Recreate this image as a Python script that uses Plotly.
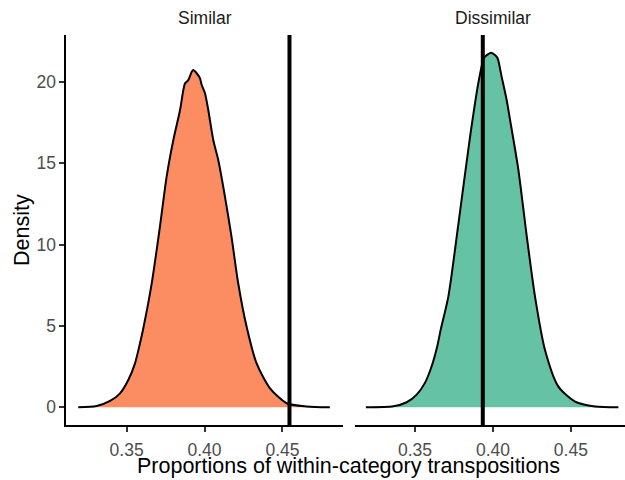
import plotly.graph_objects as go

# ---- data ----
facets = ["Similar", "Dissimilar"]

similar_x = [0.3190, 0.3308, 0.3394, 0.3458, 0.3511, 0.3554, 0.3586, 0.3605,
             0.3661, 0.3714, 0.3757,
             0.3800, 0.3843, 0.3864, 0.3875, 0.3896, 0.3918, 0.3928, 0.3950,
             0.3971, 0.3982, 0.4003, 0.4024, 0.4056, 0.4088, 0.4131, 0.4173,
             0.4216, 0.4270, 0.4334, 0.4420, 0.4527, 0.4655, 0.4804]
similar_y = [0.0, 0.08, 0.39, 0.86, 1.68, 2.70, 3.93, 4.75,
             7.6, 11.1, 14.17,
             16.42, 18.26, 19.49, 19.9, 20.1, 20.61, 20.72, 20.52,
             20.2, 19.8, 19.29, 18.26, 16.42, 15.19, 12.94, 10.48,
             7.62, 4.95, 2.70, 1.17, 0.25, 0.05, 0.0]

dissimilar_x = [0.3185, 0.3361, 0.3447, 0.3511, 0.3564, 0.3607, 0.3643, 0.3665,
                0.3714, 0.3779, 0.3853,
                0.3906, 0.3938, 0.3949, 0.3988, 0.4013, 0.4030, 0.4056, 0.4088,
                0.4110, 0.4163, 0.4217, 0.4270, 0.4334, 0.4420, 0.4527, 0.4655,
                0.4805]
dissimilar_y = [0.0, 0.06, 0.31, 0.78, 1.50, 2.52, 3.75, 4.77,
                6.8, 11.3, 16.6,
                19.9, 21.33, 21.54, 21.78, 21.64, 21.44, 20.3, 18.88,
                17.65, 14.6, 10.5, 6.8, 3.52, 1.27, 0.35, 0.05,
                0.0]

observed = [0.4545, 0.3935]          # vertical reference lines
fill_colors = ["#FC8D62", "#66C2A5"]

x_ticks = [0.35, 0.40, 0.45]
x_ticktext = ["0.35", "0.40", "0.45"]
y_ticks = [0, 5, 10, 15, 20]
y_ticktext = ["0", "5", "10", "15", "20"]

x_title = "Proportions of within-category transpositions"
y_title = "Density"

# ---- figure ----
W, H = 625, 480
FONT = "Liberation Sans, Arial, Helvetica, sans-serif"

fig = go.Figure()
series = [(similar_x, similar_y), (dissimilar_x, dissimilar_y)]
for i, (xs, ys) in enumerate(series):
    ax = "x" if i == 0 else "x2"
    ay = "y" if i == 0 else "y2"
    fig.add_trace(go.Scatter(
        x=xs, y=ys, mode="lines", fill="tozeroy",
        fillcolor=fill_colors[i],
        line=dict(color="black", width=2, shape="spline", smoothing=0.7),
        xaxis=ax, yaxis=ay, showlegend=False, hoverinfo="skip"))
    fig.add_shape(type="line", xref=ax, yref=ay + " domain",
                  x0=observed[i], x1=observed[i], y0=0, y1=1,
                  line=dict(color="black", width=4), layer="above")

x_lo = 0.3114
px_per_unit = 1559.0
left0, left1 = 66.4, 342.8
right0, right1 = 354.8, 625.0
top, bottom = 35.0, 425.0
y_range = [-1.087, 22.87]

common_x = dict(showline=True, linecolor="black", linewidth=2,
                ticks="outside", ticklen=5, tickwidth=1.5, tickcolor="#333333",
                tickvals=x_ticks, ticktext=x_ticktext, ticklabelstandoff=3,
                tickfont=dict(size=17.5, color="#4D4D4D", family=FONT),
                showgrid=False, zeroline=False)

fig.update_layout(
    width=W, height=H,
    margin=dict(l=0, r=0, t=0, b=0),
    paper_bgcolor="white", plot_bgcolor="white",
    font=dict(family=FONT),
    xaxis=dict(domain=[left0 / W, left1 / W],
               range=[x_lo, x_lo + (left1 - left0) / px_per_unit],
               anchor="y", **common_x),
    xaxis2=dict(domain=[right0 / W, right1 / W],
                range=[x_lo, x_lo + (right1 - right0) / px_per_unit],
                anchor="y2", **common_x),
    yaxis=dict(domain=[(H - bottom) / H, (H - top) / H], range=y_range,
               anchor="x", showline=True, linecolor="black", linewidth=2,
               ticks="outside", ticklen=5, tickwidth=1.5, tickcolor="#333333",
               tickvals=y_ticks, ticktext=y_ticktext,
               tickfont=dict(size=17.5, color="#4D4D4D", family=FONT),
               showgrid=False, zeroline=False),
    yaxis2=dict(domain=[(H - bottom) / H, (H - top) / H], range=y_range,
                anchor="x2", matches="y", showline=False, showticklabels=False,
                ticks="", showgrid=False, zeroline=False),
)

# strip labels
for i, name in enumerate(facets):
    c = ((left0 + left1) / 2) if i == 0 else ((right0 + right0 + (left1 - left0)) / 2)
    fig.add_annotation(text=name, x=c / W, y=1 - 18.3 / H, xref="paper", yref="paper",
                       showarrow=False, xanchor="center", yanchor="middle",
                       font=dict(size=17.5, color="#1A1A1A", family=FONT))

# axis titles
fig.add_annotation(text=x_title, x=348.7 / W, y=1 - 465.5 / H, xref="paper", yref="paper",
                   showarrow=False, xanchor="center", yanchor="middle",
                   font=dict(size=21.5, color="black", family=FONT))
fig.add_annotation(text=y_title, x=22 / W, y=1 - 230 / H, xref="paper", yref="paper",
                   showarrow=False, xanchor="center", yanchor="middle", textangle=-90,
                   font=dict(size=21.5, color="black", family=FONT))

fig.write_html("out.html")
